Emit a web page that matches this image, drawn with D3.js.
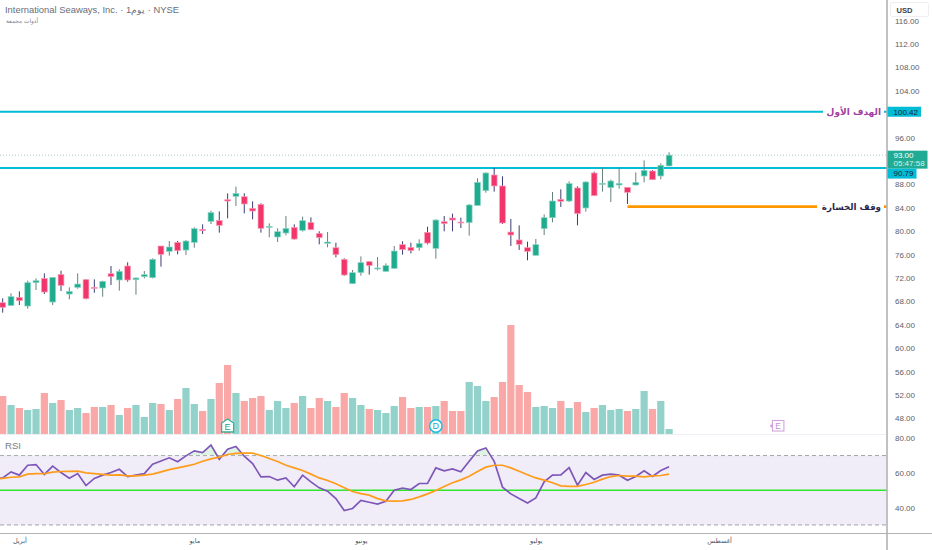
<!DOCTYPE html>
<html>
<head>
<meta charset="utf-8">
<script src="https://cdn.jsdelivr.net/npm/d3@7"></script>
<style>
  html, body { margin: 0; padding: 0; background: #fff; }
  svg { display: block; }
  text { font-family: "Liberation Sans", Arial, sans-serif; }
  .ar { font-family: "DejaVu Sans", sans-serif; }
</style>
</head>
<body>
<div id="chart"></div>
<script>
var opens = [67.78,67.32,68.69,67.21,71.20,71.94,67.89,72.62,69.26,70.40,71.71,70.40,70.29,72.74,71.66,74.05,71.71,72.23,72.05,77.47,76.56,78.09,76.78,78.09,80.32,81.68,81.85,85.39,85.96,85.90,83.91,84.59,80.66,79.01,79.69,80.66,80.15,81.51,79.63,77.92,77.18,75.19,71.03,72.91,74.79,73.59,73.14,73.65,77.70,77.24,77.18,79.80,77.07,81.63,82.25,81.57,81.46,84.42,86.93,89.61,87.73,79.86,78.50,77.19,75.88,80.43,82.31,85.45,85.16,87.39,83.97,89.95,88.07,87.44,87.90,87.50,87.90,89.44,90.29,89.44,91.15];
var highs = [68.52,69.38,69.72,71.54,71.94,72.79,72.11,73.25,70.40,72.79,71.83,71.77,71.54,74.05,73.48,74.68,72.11,73.19,75.36,77.47,78.32,78.32,78.49,80.66,81.17,83.51,83.39,86.47,87.61,86.47,85.10,84.76,81.34,80.49,82.60,81.17,82.48,82.37,79.98,79.86,78.04,75.36,73.37,75.70,74.90,75.59,74.50,77.47,78.27,78.04,78.61,80.77,82.03,82.60,83.00,82.31,84.65,89.04,90.06,90.80,89.38,82.09,81.00,78.21,78.67,82.88,86.70,87.16,88.52,87.67,88.52,90.18,90.86,88.81,90.86,87.50,90.06,92.11,90.46,91.60,93.48];
var lows = [66.07,67.21,67.38,66.76,69.95,69.26,67.38,69.77,68.35,70.17,68.35,69.49,68.81,70.80,69.83,71.37,69.15,71.94,71.94,73.94,75.82,76.04,75.93,77.18,79.52,81.23,79.75,82.20,84.31,83.05,82.03,79.75,78.95,78.15,79.29,78.55,79.92,80.20,77.75,77.24,75.53,72.40,70.97,72.40,72.57,73.31,73.08,73.59,75.99,76.21,76.67,77.75,75.30,79.98,79.98,80.55,79.24,84.37,86.59,86.76,81.23,77.47,76.79,75.02,75.82,79.35,81.52,84.14,84.99,81.00,83.34,86.07,86.76,84.99,87.27,84.65,87.84,88.35,88.75,88.87,91.09];
var closes = [66.98,68.81,68.12,71.20,71.54,69.60,72.11,70.74,69.72,70.97,68.46,70.23,71.43,72.23,73.14,71.66,72.00,72.57,75.19,76.04,77.30,76.67,78.32,80.43,80.09,83.17,81.00,85.16,86.47,84.65,83.45,80.49,80.83,79.92,80.49,78.66,81.80,80.26,78.89,78.15,75.99,72.51,72.91,74.62,74.11,73.71,74.11,76.61,76.84,76.67,77.92,77.98,81.91,81.29,81.91,81.46,84.48,88.35,89.95,87.73,81.40,79.35,77.76,76.56,77.70,82.31,85.16,85.11,88.13,83.00,88.41,86.07,88.18,88.58,88.18,86.64,88.35,90.40,88.81,91.26,93.00];
var volumes = [38,29,26,24,25,41,31,34,24,26,21,27,27,29,19,26,29,17,31,30,24,35,46,30,23,35,51,69,41,33,36,38,24,33,26,31,38,26,36,33,27,41,36,29,25,24,21,28,37,26,27,27,28,33,23,23,52,48,33,37,52,109,49,42,27,28,26,33,26,32,22,26,29,24,25,23,25,43,25,33,5];
// rsi arrays start one bar before the first visible candle
var rsi = [56.4,57.1,60.6,58.7,64.4,64.8,59.1,63.9,60.2,56.9,59.6,52.7,56.8,58.7,60.2,62.1,57.9,58.7,59.6,65.0,66.9,68.7,66.4,69.8,72.7,71.7,76.0,67.9,73.7,75.2,69.6,65.4,57.7,57.9,55.8,57.1,52.0,58.7,54.8,51.4,49.5,45.2,38.3,39.5,44.1,43.1,42.0,43.7,50.0,51.2,50.4,53.9,53.9,62.9,61.2,62.3,60.6,66.7,72.7,74.4,66.7,51.8,47.9,45.2,42.7,45.6,54.8,58.7,58.9,63.1,52.9,60.2,56.2,58.7,59.3,58.7,55.8,57.9,61.2,57.9,61.4,63.5];
var rsi_ma = [56.5,56.8,57.5,57.7,59.3,59.6,59.5,60.4,60.8,60.9,61.0,60.0,59.6,59.1,58.7,58.9,58.3,58.3,58.7,59.3,60.6,61.9,62.9,63.9,65.0,66.7,68.1,69.1,70.6,71.2,71.4,71.4,70.0,68.3,66.6,64.4,62.9,61.4,59.3,57.1,55.6,53.7,51.4,49.3,48.1,47.2,45.2,43.9,43.7,43.9,44.7,46.2,47.9,49.8,52.2,54.3,56.0,58.1,60.8,63.3,64.4,64.4,62.9,61.0,58.9,57.1,55.8,54.3,52.5,52.2,52.2,53.3,54.6,56.4,57.9,58.5,58.1,58.1,57.7,58.3,58.5,59.3];

var price_ticks = [48,52,56,60,64,68,72,76,80,84,88,96,104,108,112,116];
var rsi_ticks = [40,60,80];
var month_names = ['أبريل','مايو','يونيو','يوليو','أغسطس'];
var month_bars = [2,23,43,64,86];
var target_price = 100.42;
var entry_price = 90.79;
var stop_price = 84.2;
var stop_start = 75;
var last_price = 93.00;
var earnings_bar = 27;
var dividend_bar = 52;
var next_earnings_bar = 93;

var chart_width = 932;
var chart_height = 550;
var plot_right = 887;

var svg = d3.select('#chart')
      .append('svg')
      .attr('width', chart_width)
      .attr('height', chart_height);

var bars = d3.range(closes.length);
var rsi_bars = d3.range(rsi.length);

// scales
var x_scale = d3.scaleLinear().domain([0, 106]).range([2.7, 885.7]);
var y_scale = d3.scaleLinear().domain([48, 112]).range([418.4, 44]);
var vol_scale = d3.scaleLinear().domain([0, 109]).range([434, 325]);
var rsi_scale = d3.scaleLinear().domain([40, 80]).range([507.6, 438.2]);

// rsi band
svg.append('rect')
   .attr('x', 0)
   .attr('y', rsi_scale(70))
   .attr('width', plot_right - 1)
   .attr('height', rsi_scale(30) - rsi_scale(70))
   .attr('fill', '#f0ecf8');

[70, 30].forEach(function(v) {
  svg.append('line')
     .attr('x1', 0).attr('x2', plot_right)
     .attr('y1', rsi_scale(v)).attr('y2', rsi_scale(v))
     .attr('stroke', '#a3a3a8')
     .attr('stroke-dasharray', '4,3');
});

// overbought fill
svg.append('clipPath')
   .attr('id', 'over-clip')
   .append('rect')
   .attr('x', 0).attr('y', 434)
   .attr('width', plot_right)
   .attr('height', rsi_scale(70) - 434);

svg.append('path')
   .datum(rsi_bars)
   .attr('clip-path', 'url(#over-clip)')
   .attr('fill', '#bfe8c8')
   .attr('opacity', 0.5)
   .attr('d', d3.area()
     .x(function(i) { return x_scale(i - 1); })
     .y0(rsi_scale(70))
     .y1(function(i) { return rsi_scale(rsi[i]); }));

svg.append('line')
   .attr('x1', 0).attr('x2', plot_right)
   .attr('y1', rsi_scale(50)).attr('y2', rsi_scale(50))
   .attr('stroke', '#2ee82e')
   .attr('stroke-width', 1.6);

var rsi_line = d3.line()
      .x(function(i) { return x_scale(i - 1); })
      .y(function(i) { return rsi_scale(rsi[i]); });

var ma_line = d3.line()
      .x(function(i) { return x_scale(i - 1); })
      .y(function(i) { return rsi_scale(rsi_ma[i]); });

svg.append('path')
   .datum(rsi_bars)
   .attr('d', rsi_line)
   .attr('fill', 'none')
   .attr('stroke', '#7e57b8')
   .attr('stroke-width', 1.7);

svg.append('path')
   .datum(rsi_bars)
   .attr('d', ma_line)
   .attr('fill', 'none')
   .attr('stroke', '#ff9c1a')
   .attr('stroke-width', 1.7);

// volume
svg.append('g')
   .selectAll('rect')
   .data(bars)
   .enter()
   .append('rect')
   .attr('x', function(i) { return x_scale(i) - 3.6; })
   .attr('y', function(i) { return vol_scale(volumes[i]); })
   .attr('width', 7.2)
   .attr('height', function(i) { return vol_scale(0) - vol_scale(volumes[i]); })
   .attr('fill', function(i) { return closes[i] >= opens[i] ? '#92d2ca' : '#f9a7a7'; });

// panel separator
svg.append('line')
   .attr('x1', 0).attr('x2', plot_right)
   .attr('y1', 434.5).attr('y2', 434.5)
   .attr('stroke', '#eeeef6');

// horizontal levels
svg.append('line')
   .attr('x1', 0).attr('x2', plot_right)
   .attr('y1', y_scale(last_price)).attr('y2', y_scale(last_price))
   .attr('stroke', '#a9cfc8')
   .attr('stroke-dasharray', '1,2');

[[0, 823, target_price], [884, plot_right, target_price], [0, plot_right, entry_price]].forEach(function(s) {
  svg.append('line')
     .attr('x1', s[0]).attr('x2', s[1])
     .attr('y1', y_scale(s[2])).attr('y2', y_scale(s[2]))
     .attr('stroke', '#00bcd4')
     .attr('stroke-width', 2);
});

[[x_scale(stop_start), 817], [884, plot_right]].forEach(function(s) {
  svg.append('line')
     .attr('x1', s[0]).attr('x2', s[1])
     .attr('y1', y_scale(stop_price)).attr('y2', y_scale(stop_price))
     .attr('stroke', '#ff9800')
     .attr('stroke-width', 2.7);
});

// candles
var candles = svg.append('g')
      .selectAll('g')
      .data(bars)
      .enter()
      .append('g');

candles.append('line')
   .attr('x1', function(i) { return x_scale(i); })
   .attr('x2', function(i) { return x_scale(i); })
   .attr('y1', function(i) { return y_scale(highs[i]); })
   .attr('y2', function(i) { return y_scale(lows[i]); })
   .attr('stroke', function(i) { return closes[i] >= opens[i] ? '#66807c' : '#3d3d75'; })
   .attr('stroke-width', 1);

candles.append('rect')
   .attr('x', function(i) { return x_scale(i) - 2.9; })
   .attr('y', function(i) { return y_scale(Math.max(opens[i], closes[i])); })
   .attr('width', 5.8)
   .attr('height', function(i) { return Math.max(1, Math.abs(y_scale(opens[i]) - y_scale(closes[i]))); })
   .attr('fill', function(i) { return closes[i] >= opens[i] ? '#1fab8e' : '#f2366c'; })
   .attr('stroke', function(i) { return closes[i] >= opens[i] ? '#8fd6c8' : '#f9a0b8'; })
   .attr('stroke-width', 0.7);

// level labels
svg.append('text')
   .attr('class', 'ar')
   .attr('x', 881).attr('y', y_scale(target_price) + 3.5)
   .attr('text-anchor', 'end')
   .attr('font-size', 9)
   .attr('font-weight', 'bold')
   .attr('fill', '#a0409f')
   .text('الهدف الأول');

svg.append('text')
   .attr('class', 'ar')
   .attr('x', 881).attr('y', y_scale(stop_price) + 3.2)
   .attr('text-anchor', 'end')
   .attr('font-size', 8.7)
   .attr('font-weight', 'bold')
   .attr('fill', '#26264e')
   .text('وقف الخسارة');

// event markers
var earn = svg.append('g').attr('transform', 'translate(' + x_scale(earnings_bar) + ',426)');
earn.append('path')
   .attr('d', d3.line()([[-6, -3], [0, -7], [6, -3], [6, 6], [-6, 6]]) + 'Z')
   .attr('fill', '#fff')
   .attr('stroke', '#35b09a')
   .attr('stroke-width', 1.3);
earn.append('text')
   .attr('text-anchor', 'middle').attr('y', 3.6)
   .attr('font-size', 9).attr('fill', '#26a08a').text('E');

var divd = svg.append('g').attr('transform', 'translate(' + x_scale(dividend_bar) + ',426)');
divd.append('circle')
   .attr('r', 6.2)
   .attr('fill', '#fff')
   .attr('stroke', '#1fc0dc')
   .attr('stroke-width', 1.5);
divd.append('text')
   .attr('text-anchor', 'middle').attr('y', 3.3)
   .attr('font-size', 9).attr('fill', '#1aa9c4').text('D');

var next = svg.append('g').attr('transform', 'translate(' + x_scale(next_earnings_bar) + ',426)');
next.append('rect')
   .attr('x', -5).attr('y', -5.5)
   .attr('width', 11.5).attr('height', 10.5)
   .attr('fill', '#fff')
   .attr('stroke', '#d2a3df')
   .attr('stroke-width', 1.1);
next.append('circle')
   .attr('cx', -6).attr('cy', 0).attr('r', 1.4)
   .attr('fill', '#d2a3df');
next.append('text')
   .attr('text-anchor', 'middle').attr('x', 0.7).attr('y', 3)
   .attr('font-size', 8.5).attr('fill', '#c58fd6').text('E');

// axes
var price_axis = d3.axisRight(y_scale)
      .tickValues(price_ticks)
      .tickFormat(d3.format('.2f'))
      .tickSize(0)
      .tickPadding(8);

var rsi_axis = d3.axisRight(rsi_scale)
      .tickValues(rsi_ticks)
      .tickFormat(d3.format('.2f'))
      .tickSize(0)
      .tickPadding(8);

var time_axis = d3.axisBottom(x_scale)
      .tickValues(month_bars)
      .tickFormat(function(d, i) { return month_names[i]; })
      .tickSize(0)
      .tickPadding(4.5);

[price_axis, rsi_axis].forEach(function(axis) {
  var g = svg.append('g')
     .attr('transform', 'translate(' + plot_right + ',0)')
     .call(axis);
  g.select('.domain').remove();
  g.selectAll('text')
   .attr('font-size', 8)
   .attr('font-family', '"Liberation Sans", Arial, sans-serif')
   .attr('fill', '#5d606b');
});

var time_g = svg.append('g')
     .attr('transform', 'translate(0,534)')
     .call(time_axis);
time_g.select('.domain').remove();
time_g.selectAll('text')
   .attr('class', 'ar')
   .attr('font-size', 6.5)
   .attr('font-family', '"DejaVu Sans", sans-serif')
   .attr('fill', '#50535e');

svg.append('line')
   .attr('x1', 0).attr('x2', chart_width)
   .attr('y1', 533.5).attr('y2', 533.5)
   .attr('stroke', '#b2b2b6')
   .attr('stroke-width', 1.2);

svg.append('line')
   .attr('x1', plot_right).attr('x2', plot_right)
   .attr('y1', 0).attr('y2', chart_height)
   .attr('stroke', '#b2b2b6')
   .attr('stroke-width', 1.6);

// USD box
svg.append('rect')
   .attr('x', 890.5).attr('y', 2.5)
   .attr('width', 38).attr('height', 14)
   .attr('rx', 2)
   .attr('fill', '#fff')
   .attr('stroke', '#eeeef2');

svg.append('text')
   .attr('x', 896.5).attr('y', 12.6)
   .attr('font-size', 7.6)
   .attr('font-weight', 'bold')
   .attr('fill', '#3c3f4a')
   .text('USD');

// price tags
function price_tag(top, width, height, fill) {
  svg.append('rect')
     .attr('x', plot_right + 0.5).attr('y', top)
     .attr('width', width).attr('height', height)
     .attr('fill', fill);
}

function tag_text(y, label, color) {
  svg.append('text')
     .attr('x', 893.5).attr('y', y)
     .attr('font-size', 8)
     .attr('fill', color)
     .text(label);
}

price_tag(y_scale(target_price) - 5, 33.5, 10, '#00bcd4');
tag_text(y_scale(target_price) + 2.9, d3.format('.2f')(target_price), '#1c1c3c');

price_tag(y_scale(last_price) - 4.5, 40, 18, '#22ab94');
tag_text(y_scale(last_price) + 2.8, d3.format('.2f')(last_price), '#fff');
tag_text(y_scale(last_price) + 11, '05:47:58', '#d6f2ec');

price_tag(y_scale(entry_price) + 0.5, 29, 10, '#00bcd4');
tag_text(y_scale(entry_price) + 8.2, d3.format('.2f')(entry_price), '#1c1c3c');

// legend
svg.append('text')
   .attr('x', 5).attr('y', 13)
   .attr('font-size', 9.4)
   .attr('fill', '#6a6d78')
   .text('International Seaways, Inc. · 1يوم · NYSE');

svg.append('text')
   .attr('class', 'ar')
   .attr('x', 38).attr('y', 23)
   .attr('text-anchor', 'end')
   .attr('font-size', 5.8)
   .attr('fill', '#7a7d88')
   .text('أدوات مجمعة');

svg.append('text')
   .attr('x', 5).attr('y', 449)
   .attr('font-size', 9.6)
   .attr('fill', '#7a7d88')
   .text('RSI');
</script>
</body>
</html>
